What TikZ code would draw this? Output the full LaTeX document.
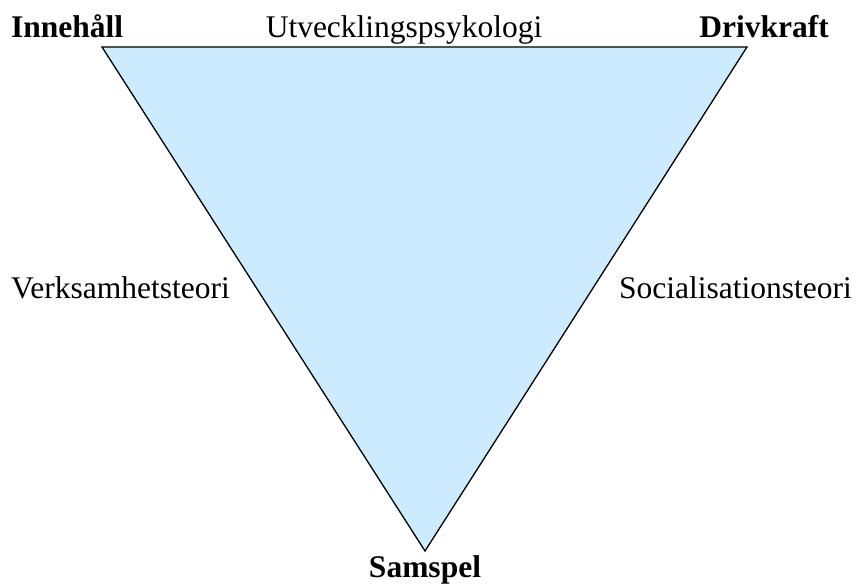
\documentclass[tikz,border=0pt]{standalone}
\usepackage{fontspec}
\setmainfont{Liberation Serif}
\definecolor{trifill}{HTML}{CCEBFF}
\begin{document}
\begin{tikzpicture}[x=1pt,y=1pt,
  lbl/.style={font=\fontsize{31.5}{36}\selectfont, inner sep=0pt, anchor=base},
  blbl/.style={lbl, font=\fontsize{31.5}{36}\selectfont\bfseries}]
\useasboundingbox (0,0) rectangle (859,586);
\coordinate (tl) at (102,539);
\coordinate (tr) at (747,539);
\coordinate (bt) at (425,35);
\draw[line width=1.3pt, fill=trifill, line join=miter] (tl) -- (tr) -- (bt) -- cycle;
\node[blbl, anchor=base west] (inn) at (11,548) {Innehåll};
\node[lbl] (utv) at (404,548) {Utvecklingspsykologi};
\node[blbl, anchor=base east] (dri) at (829,548) {Drivkraft};
\node[lbl, anchor=base west] (ver) at (11,287) {Verksamhetsteori};
\node[lbl, anchor=base east] (soc) at (852,287) {Socialisationsteori};
\node[blbl] (sam) at (425,9) {Samspel};
\end{tikzpicture}
\end{document}
